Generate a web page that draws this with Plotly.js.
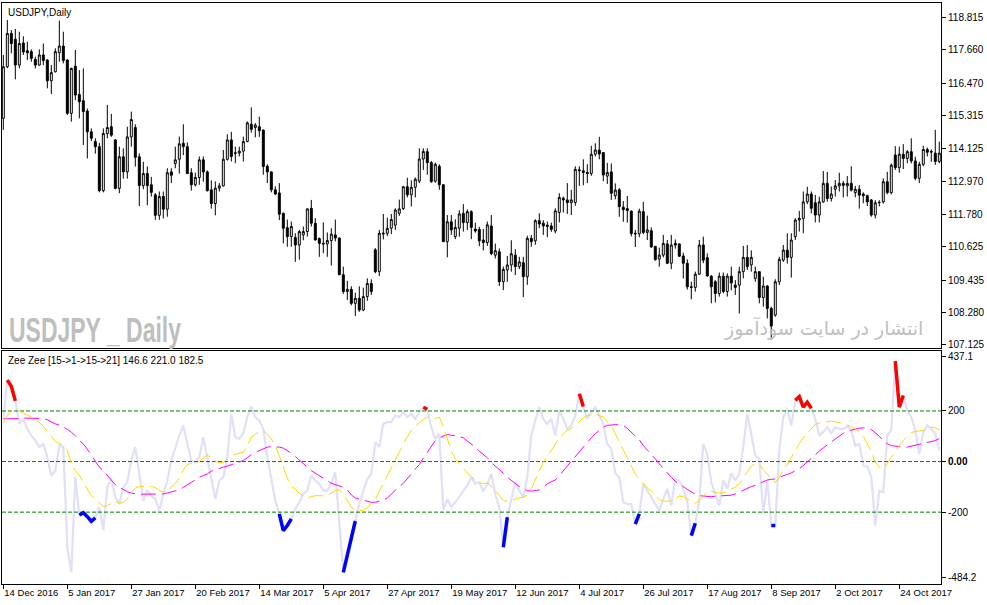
<!DOCTYPE html>
<html><head><meta charset="utf-8">
<script src="https://cdn.plot.ly/plotly-3.0.1.min.js"></script>
<style>html,body{margin:0;padding:0;background:#fff;overflow:hidden}#chart{width:987px;height:605px}</style>
</head><body><div id="chart"></div>
<script>
// ---- Price data (USDJPY daily, one value per bar) ----
const openP=[115.21,117.05,118.24,118.03,117.11,117.90,117.62,117.59,117.31,117.11,
117.47,117.29,116.55,116.87,117.55,117.79,117.29,115.39,117.07,116.06,
115.84,115.47,114.73,114.38,114.20,112.63,114.67,114.91,114.44,112.71,
113.84,113.30,114.55,114.88,113.84,112.81,113.24,112.84,112.48,111.75,
112.42,111.97,113.30,113.60,113.75,114.32,114.20,113.27,112.84,113.10,
113.73,113.30,112.66,112.17,112.72,112.80,113.75,114.44,113.96,113.97,
114.04,114.38,115.00,114.88,114.91,114.79,113.50,113.30,112.66,112.55,
111.82,111.31,110.99,110.96,110.69,111.05,111.17,112.00,111.47,110.92,
110.75,110.73,110.85,111.05,110.94,109.63,109.03,109.11,108.61,108.79,
108.37,108.85,109.32,110.52,109.74,111.08,111.11,111.29,111.40,111.82,
111.99,112.77,112.48,112.75,112.97,113.76,114.02,113.63,112.97,113.50,
112.84,110.81,111.52,110.99,111.29,111.82,111.49,111.88,111.26,111.25,
110.87,110.78,111.37,110.33,110.45,109.38,109.80,109.98,110.33,109.92,
110.06,109.56,110.93,110.84,111.56,111.47,111.35,111.37,111.19,111.85,
112.36,112.30,112.20,112.21,113.34,113.34,113.28,113.24,113.93,114.08,
113.99,113.15,113.30,112.45,112.66,112.04,111.99,111.90,111.11,111.09,
111.88,111.14,111.20,110.64,110.19,110.33,110.73,110.04,110.75,110.73,
110.30,110.04,109.20,109.18,109.65,110.69,110.24,109.58,109.38,108.96,
109.58,109.03,109.58,109.26,109.26,109.74,110.25,109.98,109.50,109.74,
108.82,109.23,108.43,108.19,109.38,110.15,110.51,110.25,110.99,111.58,
111.64,112.23,112.51,112.20,111.76,112.23,112.89,112.35,112.68,112.80,
112.89,112.80,112.89,112.56,112.68,112.51,112.45,112.30,111.76,112.20,
112.23,112.95,112.56,113.90,113.45,113.93,113.78,114.02,113.69,113.07,
113.57,114.10,114.00,113.97,113.67];
const highP=[117.47,118.72,118.36,118.40,118.30,118.14,117.94,117.67,117.41,117.67,
117.88,117.32,117.11,117.71,118.70,118.30,117.32,117.02,117.65,116.93,
116.99,115.56,114.85,114.50,114.33,114.85,115.69,115.37,114.47,114.20,
114.14,114.91,115.45,115.00,113.96,113.66,113.49,113.12,112.54,112.60,
112.60,113.43,113.43,114.20,114.56,115.00,114.35,113.43,113.27,113.85,
113.85,113.35,113.00,112.96,112.90,114.08,114.64,114.73,114.20,114.20,
114.56,115.10,115.60,115.04,115.27,114.82,113.57,113.32,112.78,112.90,
111.85,111.60,111.53,111.11,111.23,111.35,112.00,112.30,111.65,110.96,
111.50,111.14,111.29,111.60,110.96,109.92,109.41,109.22,108.99,109.22,
109.17,109.50,109.47,110.58,111.23,111.80,111.67,111.80,112.00,112.31,
112.80,113.09,113.00,113.10,114.14,114.14,114.14,113.69,113.63,113.57,
112.86,111.76,111.76,111.61,111.93,112.15,111.96,111.93,111.49,111.34,
111.26,111.53,111.76,110.74,110.57,109.92,110.30,110.86,110.54,110.27,
110.27,111.02,111.05,111.61,111.82,111.58,111.53,111.49,112.00,112.54,
112.42,112.90,112.66,113.50,113.50,113.75,113.57,114.23,114.32,114.55,
114.00,113.62,113.60,112.89,112.72,112.26,112.44,111.92,111.23,111.99,
112.23,111.74,111.32,110.66,110.60,111.05,110.87,111.05,110.89,110.75,
110.42,110.18,109.38,109.74,110.87,110.99,110.39,109.62,109.44,109.71,
109.71,109.68,109.92,109.44,109.92,110.66,110.69,110.50,109.92,109.74,
109.56,109.26,108.49,109.47,110.27,110.69,111.11,111.11,111.65,111.91,
112.60,112.77,112.60,112.48,112.42,113.33,113.30,112.78,113.01,113.27,
112.97,113.15,113.50,112.80,112.83,112.57,112.49,112.33,112.29,112.29,
113.07,113.30,113.60,114.22,114.20,114.29,114.08,114.50,113.84,113.66,
114.23,114.17,114.10,114.80,114.38];
const lowP=[114.80,117.00,117.53,116.60,116.99,117.47,117.29,117.23,116.99,117.09,
117.11,116.28,116.08,116.85,117.23,117.17,115.33,115.09,115.86,115.21,
114.26,113.78,114.40,113.95,112.57,112.57,114.50,114.55,112.68,112.54,
113.06,113.06,114.20,113.49,112.08,112.68,112.11,112.42,111.59,111.59,
111.64,111.70,112.90,113.43,113.24,113.90,113.22,112.63,112.78,112.84,
112.95,112.60,111.99,111.75,112.60,112.78,113.70,113.67,113.61,113.85,
113.67,114.36,114.70,114.53,114.55,113.20,112.90,112.57,112.47,111.58,
110.75,110.63,110.63,110.09,110.17,110.86,110.99,111.35,110.85,110.27,
110.40,110.27,109.96,110.82,109.62,108.95,108.73,108.54,108.16,108.31,
108.33,108.70,108.91,109.68,109.58,110.89,111.01,111.08,111.23,111.73,
111.94,112.39,112.07,112.39,112.90,113.37,113.20,112.91,112.91,112.66,
110.80,110.25,111.05,110.90,110.99,111.17,111.23,110.90,111.13,110.65,
110.50,110.66,110.33,110.21,109.23,109.08,109.38,109.74,109.62,109.83,
108.83,109.27,110.63,110.70,111.29,111.05,110.97,111.16,111.11,111.50,
111.85,111.80,111.76,112.09,112.80,112.82,112.90,113.16,113.85,113.75,
112.97,112.87,112.30,112.32,111.70,111.52,111.49,111.00,110.62,110.97,
111.08,110.87,110.59,110.13,109.92,110.25,110.01,109.83,110.56,110.27,
109.50,109.10,108.75,109.03,109.62,110.04,109.56,108.61,108.64,108.85,
108.97,108.85,109.07,108.91,108.25,109.50,109.80,109.74,109.38,108.61,
108.49,108.07,107.32,108.13,109.26,110.09,110.03,109.53,110.87,111.17,
111.11,112.15,111.82,111.50,111.50,112.20,112.24,112.24,112.42,112.60,
112.39,112.42,112.60,112.39,111.99,112.18,112.08,111.70,111.64,112.07,
112.17,112.50,112.50,113.37,113.27,113.40,113.61,113.60,113.00,112.90,
113.50,113.85,113.66,113.55,113.61];
const closeP=[117.05,118.24,117.88,117.11,117.88,117.58,117.55,117.35,117.11,117.47,
117.27,116.55,116.84,117.59,117.79,117.27,115.39,116.99,116.04,115.80,
115.45,114.73,114.50,114.20,112.63,114.67,114.88,114.61,112.71,113.84,
113.30,114.55,115.17,113.82,112.81,113.24,112.81,112.57,111.75,112.42,
111.97,113.27,113.18,113.73,114.30,114.20,113.24,112.84,113.10,113.73,
113.30,112.63,112.17,112.72,112.80,113.75,114.44,113.85,113.98,114.04,
114.38,115.05,114.82,114.97,114.77,113.49,113.30,112.66,112.51,111.79,
111.29,110.99,111.35,110.69,111.17,111.17,111.98,111.47,110.87,110.75,
110.73,110.85,111.08,110.94,109.63,109.03,109.11,108.61,108.79,108.37,
108.85,109.32,109.03,109.74,111.11,111.11,111.29,111.60,111.94,111.98,
112.77,112.48,112.75,113.04,113.76,114.03,113.63,112.95,113.57,112.84,
110.81,111.52,111.23,111.32,111.80,111.49,111.88,111.32,111.19,110.84,
110.78,111.41,110.38,110.49,109.38,109.82,109.98,110.38,109.92,110.09,
109.56,110.93,110.81,111.56,111.44,111.37,111.40,111.25,111.91,112.39,
112.30,112.20,112.30,113.39,113.37,113.28,113.24,113.93,114.08,113.94,
113.19,113.28,112.54,112.65,112.06,111.95,111.92,111.10,111.09,111.90,
111.14,111.23,110.62,110.17,110.33,110.75,110.04,110.69,110.69,110.29,
110.04,109.20,109.18,109.65,110.69,110.15,109.59,109.20,108.96,109.58,
109.03,109.58,109.34,109.18,109.74,110.25,109.92,110.25,109.74,108.82,
109.23,108.43,107.80,109.38,110.18,110.51,110.25,110.87,111.58,111.64,
112.23,112.51,112.00,111.76,112.23,112.89,112.35,112.51,112.80,112.89,
112.82,112.89,112.65,112.68,112.47,112.45,112.23,111.76,112.20,112.21,
112.95,112.56,113.54,113.45,113.93,113.78,114.02,113.69,113.07,113.57,
114.10,114.00,114.03,113.67,113.97];

// ---- Zee Zee indicator ----
const zeeRaw=[169,322,298,240,149,169,129,103,83,57,
70,17,-55,-36,63,57,-339,-438,-60,-211,
-202,-218,-236,-223,-180,-271,-102,-69,-140,-168,
-102,-80,4,57,-49,-154,-115,-135,-148,-194,
-128,-75,4,57,103,143,77,4,-3,17,
96,17,-69,-148,-75,-62,17,189,96,90,
113,176,218,176,162,129,17,-75,-154,-207,
-273,-253,-227,-187,-161,-128,-115,-55,-75,-88,
-115,-115,-88,-42,-260,-438,-370,-290,-235,-168,
-115,-69,-49,77,57,149,156,156,182,176,
195,176,189,169,195,215,207,136,90,110,
-190,-150,-180,-161,-141,-115,-95,-62,-88,-82,
-118,-90,-49,-128,-180,-339,-220,-148,-82,-115,
-140,-60,103,162,215,169,149,169,103,202,
169,129,143,182,268,218,169,195,215,182,
149,70,50,-49,-62,-161,-168,-168,-247,-207,
-88,-115,-141,-168,-194,-148,-108,-174,-69,-75,
-108,-161,-293,-244,-154,70,30,-82,-128,-174,
-75,-108,-46,-75,-49,57,189,103,24,11,
-207,-75,-253,-253,44,176,209,143,242,257,
215,235,211,169,103,116,136,112,136,129,
129,139,125,63,70,-16,-20,-62,-253,-115,
-121,103,123,397,215,261,202,176,123,30,
116,143,129,110,44];
const zeeFast=[152,182,199,202,199,191,186,176,165,156,
139,120,99,79,71,66,44,-7,-36,-55,
-82,-111,-135,-148,-165,-178,-174,-165,-157,-165,
-162,-148,-128,-104,-99,-99,-99,-99,-102,-115,
-121,-112,-102,-86,-65,-33,-12,-7,-9,1,
15,24,17,1,-4,-3,8,22,29,32,
37,63,96,107,119,123,107,90,59,24,
-22,-66,-95,-112,-125,-137,-144,-139,-135,-135,
-135,-131,-125,-115,-112,-128,-154,-181,-191,-194,
-194,-183,-168,-148,-117,-86,-55,-20,11,41,
70,99,123,141,154,165,176,173,170,176,
139,90,41,11,-7,-29,-46,-59,-73,-82,
-88,-84,-99,-112,-135,-154,-157,-152,-147,-144,
-141,-132,-108,-73,-38,-3,20,44,67,92,
110,123,131,143,158,173,182,186,186,182,
176,157,141,110,77,49,11,-22,-49,-70,
-88,-104,-117,-136,-150,-157,-157,-156,-148,-136,
-139,-148,-157,-165,-154,-135,-120,-117,-120,-125,
-123,-121,-108,-102,-88,-65,-40,-18,-9,-9,
-33,-49,-62,-82,-62,-33,-12,17,44,70,
94,112,129,147,152,156,157,160,158,154,
149,144,139,128,119,99,73,37,-3,-22,
-29,-9,17,37,63,83,99,115,119,120,
123,132,136,133,125];
const zeeSlow=[169,169,169,169,170,172,172,172,172,172,
170,165,156,149,144,136,128,116,102,83,
70,49,24,1,-22,-36,-55,-73,-92,-102,
-112,-119,-125,-128,-129,-129,-129,-129,-129,-128,
-128,-124,-120,-117,-112,-102,-91,-82,-73,-62,
-55,-49,-38,-32,-26,-22,-18,-13,-7,-3,
4,15,28,36,44,51,57,59,59,57,
53,44,33,20,7,-7,-22,-36,-46,-55,
-66,-75,-86,-91,-95,-102,-112,-132,-144,-149,
-154,-158,-161,-161,-157,-152,-144,-128,-112,-99,
-86,-69,-49,-29,-12,13,37,59,83,94,
99,107,104,103,99,94,81,70,57,41,
28,15,-4,-17,-33,-46,-62,-75,-88,-99,
-108,-115,-117,-115,-112,-102,-88,-80,-73,-55,
-36,-20,1,21,37,57,77,94,110,125,
136,143,145,146,145,143,131,117,103,86,
63,46,30,11,-9,-28,-46,-62,-78,-90,
-99,-110,-120,-129,-135,-137,-139,-139,-137,-136,
-135,-135,-133,-128,-120,-112,-106,-99,-94,-87,
-80,-73,-70,-69,-62,-58,-51,-45,-38,-28,
-16,-1,15,28,41,54,66,78,88,100,
112,120,125,129,132,133,132,127,115,100,
83,70,63,61,57,57,57,61,65,67,
70,75,78,83,91];
// bar ranges flagged by the indicator (drawn over the raw line)
const upSignalRanges=[[1,3],[105,106],[144,145],[198,202],[223,225]];
const downSignalRanges=[[19,23],[69,72],[85,88],[125,126],[158,159],[172,173],[192,193]];
const levelValues=[200,0,-200];

// ---- Axis labels ----
const dateTickIndex=[0,16,32,48,64,80,96,112,128,144,160,176,192,208,224];
const dateTickLabels=['14 Dec 2016','5 Jan 2017','27 Jan 2017','20 Feb 2017','14 Mar 2017','5 Apr 2017','27 Apr 2017','19 May 2017','12 Jun 2017','4 Jul 2017','26 Jul 2017','17 Aug 2017','8 Sep 2017','2 Oct 2017','24 Oct 2017'];
const priceTicks=[118.815,117.660,116.470,115.315,114.125,112.970,111.780,110.625,109.435,108.280,107.125];
const zeeTickLabels=['437.1','200','<b>0.00</b>','-200','-484.2'];

const n=closeP.length;
const idx=Array.from({length:n},(_,i)=>i);
const xr=[-0.33,234.43];
function flagged(ranges){
  const a=new Array(n).fill(null);
  ranges.forEach(([s,e])=>{for(let i=s;i<=e;i++)a[i]=zeeRaw[i];});
  return a;
}

const traces=[
 {type:'candlestick',x:idx,open:openP,high:highP,low:lowP,close:closeP,xaxis:'x2',yaxis:'y2',
  increasing:{line:{color:'#000',width:1},fillcolor:'#fff'},
  decreasing:{line:{color:'#000',width:1},fillcolor:'#000'},
  whiskerwidth:0,hoverinfo:'skip'},
 {type:'scatter',mode:'lines',x:idx,y:zeeRaw,xaxis:'x',yaxis:'y',line:{color:'#E0E0F7',width:2.2},hoverinfo:'skip'}
];
// level lines (above the raw line, below the averages)
levelValues.forEach(v=>traces.push({type:'scatter',mode:'lines',x:xr,y:[v,v],xaxis:'x',yaxis:'y',
  line:{color:'#008000',width:1,dash:'4px,2px'},hoverinfo:'skip'}));
traces.push(
 {type:'scatter',mode:'lines',x:idx,y:zeeSlow,xaxis:'x',yaxis:'y',line:{color:'#FF00FF',width:1,dash:'15px,6px'},hoverinfo:'skip'},
 {type:'scatter',mode:'lines',x:idx,y:zeeFast,xaxis:'x',yaxis:'y',line:{color:'#FFD700',width:1,dash:'15px,6px'},hoverinfo:'skip'},
 {type:'scatter',mode:'lines',x:idx,y:flagged(upSignalRanges),xaxis:'x',yaxis:'y',connectgaps:false,line:{color:'#FF0000',width:3.5},hoverinfo:'skip'},
 {type:'scatter',mode:'lines',x:idx,y:flagged(downSignalRanges),xaxis:'x',yaxis:'y',connectgaps:false,line:{color:'#0000FF',width:3.5},hoverinfo:'skip'}
);

const font={family:'Liberation Sans, Arial, sans-serif',size:10,color:'#000'};
const layout={
 width:987,height:605,margin:{l:2,r:46,t:3,b:21},
 paper_bgcolor:'#fff',plot_bgcolor:'#fff',showlegend:false,font:font,hovermode:false,
 xaxis:{domain:[0,1],anchor:'y',range:xr,tickmode:'array',tickvals:dateTickIndex,ticktext:dateTickLabels,
   tickangle:0,tickfont:{family:'Liberation Sans, Arial, sans-serif',size:9.5,color:'#000'},
   ticks:'outside',ticklen:4,tickcolor:'#000',ticklabelposition:'outside right',
   showline:true,mirror:true,linecolor:'#000',linewidth:1,showgrid:false,zeroline:false,fixedrange:true},
 xaxis2:{domain:[0,1],anchor:'y2',matches:'x',range:xr,showticklabels:false,ticks:'',
   showline:true,mirror:true,linecolor:'#000',linewidth:1,showgrid:false,zeroline:false,
   rangeslider:{visible:false},fixedrange:true},
 yaxis:{domain:[0,0.401],anchor:'x',side:'right',range:[-484.2,437.1],tickmode:'array',
   tickvals:[415,200,0,-200,-457],ticktext:zeeTickLabels,ticks:'outside',ticklen:4,tickcolor:'#000',
   showline:true,mirror:true,linecolor:'#000',linewidth:1,showgrid:false,zeroline:false,fixedrange:true},
 yaxis2:{domain:[0.4062,1],anchor:'x2',side:'right',range:[107.017,119.325],tickmode:'array',
   tickvals:priceTicks,ticktext:priceTicks.map(v=>v.toFixed(3)),ticks:'outside',ticklen:4,tickcolor:'#000',
   showline:true,mirror:true,linecolor:'#000',linewidth:1,showgrid:false,zeroline:false,fixedrange:true},
 annotations:[
  {text:'USDJPY,Daily',xref:'paper',yref:'paper',x:0,y:1,xanchor:'left',yanchor:'top',xshift:4,yshift:-2,showarrow:false,font:font},
  {text:'Zee Zee [15->1->15->21] 146.6 221.0 182.5',xref:'paper',yref:'y domain',x:0,y:1,xanchor:'left',yanchor:'top',xshift:4,yshift:-2,showarrow:false,font:font},
  {text:'<b>USDJPY _ Daily</b>',xref:'paper',yref:'y2 domain',x:0,y:0,xanchor:'left',yanchor:'bottom',align:'left',xshift:5,yshift:-3,showarrow:false,
   font:{family:'Liberation Sans, Arial, sans-serif',size:35,color:'#BEBEBE'}},
  {text:'انتشار در سایت سودآموز',xref:'paper',yref:'y2 domain',x:0.983,y:0,xanchor:'right',yanchor:'bottom',yshift:6,showarrow:false,
   font:{family:'DejaVu Sans, sans-serif',size:19,color:'#C0C0C0'}}
 ]
};
Plotly.newPlot('chart',traces,layout,{staticPlot:true,displayModeBar:false}).then(function(gd){
  // condense the watermark text horizontally, as in the original narrow font
  gd.querySelectorAll('text.annotation-text').forEach(function(t){
    if(t.textContent==='USDJPY _ Daily'){
      t.setAttribute('textLength','172');
      t.setAttribute('lengthAdjust','spacingAndGlyphs');
    }
  });
});
</script></body></html>
